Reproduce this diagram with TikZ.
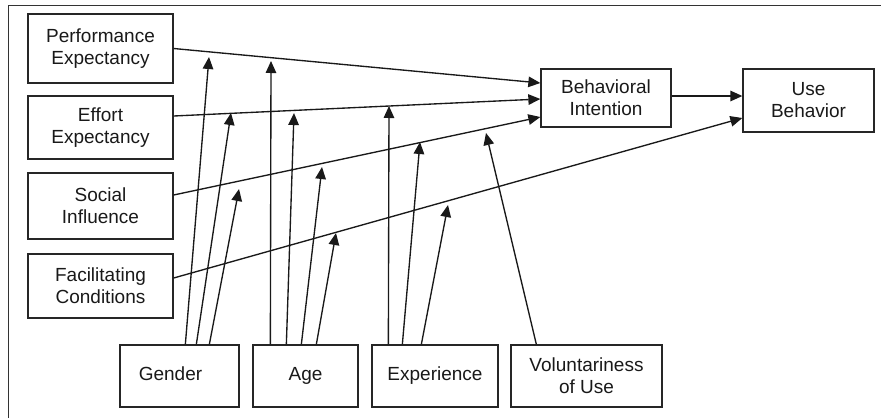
\documentclass[tikz,border=0pt]{standalone}
\usepackage{fontspec}
\setmainfont{Liberation Sans}
\usetikzlibrary{arrows.meta,calc}
\begin{document}
\begin{tikzpicture}[x=1pt,y=-1pt,
  box/.style={draw=black!85,line width=1.3pt,rectangle,inner sep=0pt,align=center,
    font=\fontsize{19}{22}\selectfont,text=black!90},
  arr/.style={draw=black!90,line width=1.35pt,-{Triangle[length=12pt,width=10.5pt]}},
  frameline/.style={draw=black!80,line width=0.9pt}]
\useasboundingbox (0,0) rectangle (881,418);
\draw[frameline] (8,418) -- (8,5) -- (881,5);
% predictor boxes
\node[box,minimum width=145pt,minimum height=69pt] (PE) at (100.5,48.5) {Performance\\Expectancy};
\node[box,minimum width=145pt,minimum height=63pt] (EE) at (100.5,127.5) {Effort\\Expectancy};
\node[box,minimum width=145pt,minimum height=66pt] (SI) at (100.5,206) {Social\\Influence};
\node[box,minimum width=145pt,minimum height=64pt] (FC) at (100.5,286) {Facilitating\\Conditions};
% outcome boxes
\node[box,minimum width=130pt,minimum height=58pt] (BI) at (606,98) {Behavioral\\Intention};
\node[box,minimum width=131pt,minimum height=63pt] (UB) at (808.5,100.5) {Use\\Behavior};
% moderators
\node[box,minimum width=119pt,minimum height=62pt] (G) at (179.5,376) {\hspace*{-18pt}Gender\vphantom{Ag}};
\node[box,minimum width=105pt,minimum height=62pt] (A) at (305.5,376) {Age};
\node[box,minimum width=126pt,minimum height=62pt] (X) at (435,376) {Experience};
\node[box,minimum width=151pt,minimum height=62pt] (V) at (586.5,376) {Voluntariness\\of Use};
% main paths
\draw[arr] (PE.east) -- ([yshift=15pt]BI.west);
\draw[arr] ([yshift=11.5pt]EE.east) -- ([yshift=-1pt]BI.west);
\draw[arr] ([yshift=11pt]SI.east) -- ([yshift=-19pt]BI.west);
\draw[arr] ([yshift=8pt]FC.east) -- ([yshift=-17.5pt]UB.west);
\draw[arr] ([yshift=2pt]BI.east) -- ([yshift=2pt]BI.east -| UB.west);
% moderator tips
\coordinate (g1) at (209,57);
\coordinate (g2) at (231,113);
\coordinate (g3) at (239,189);
\coordinate (a1) at (271,61);
\coordinate (a2) at (294,113);
\coordinate (a3) at (322,167);
\coordinate (a4) at (336,233);
\coordinate (x1) at (389,106);
\coordinate (x2) at (420,142);
\coordinate (x3) at (448,205);
\coordinate (v1) at (486,133);
% moderator arrows
\draw[arr] ([xshift=66pt]G.north west) -- (g1);
\draw[arr] ([xshift=77pt]G.north west) -- (g2);
\draw[arr] ([xshift=90pt]G.north west) -- (g3);
\draw[arr] ([xshift=18pt]A.north west) -- (a1);
\draw[arr] ([xshift=34pt]A.north west) -- (a2);
\draw[arr] ([xshift=49pt]A.north west) -- (a3);
\draw[arr] ([xshift=64pt]A.north west) -- (a4);
\draw[arr] ([xshift=17pt]X.north west) -- (x1);
\draw[arr] ([xshift=31pt]X.north west) -- (x2);
\draw[arr] ([xshift=50pt]X.north west) -- (x3);
\draw[arr] ([xshift=26pt]V.north west) -- (v1);
\end{tikzpicture}
\end{document}
